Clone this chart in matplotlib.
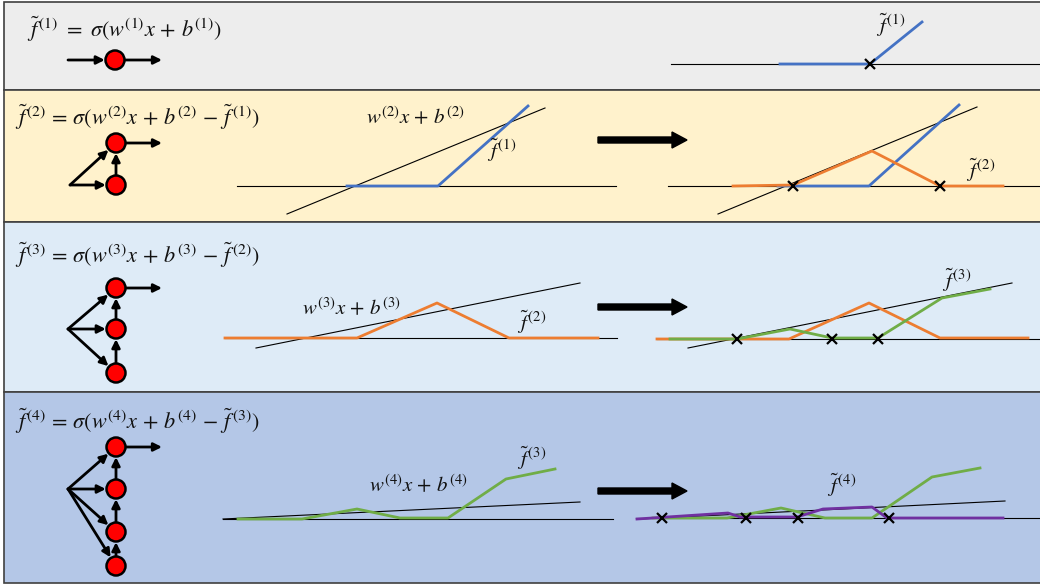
import matplotlib.pyplot as plt
from matplotlib.patches import Rectangle, Circle, FancyArrow

plt.rcParams['mathtext.fontset'] = 'stix'

BLUE = '#4472C4'
ORANGE = '#ED7D31'
GREEN = '#70AD47'
PURPLE = '#7030A0'

# panel frames (pixel rows) and fills
panel_top = [2, 90, 222, 392]
panel_bottom = [90, 222, 392, 583]
panel_color = ['#EDEDED', '#FFF2CC', '#DEEBF7', '#B4C7E7']

# formulas on the left of each panel
formulas = [r'$\tilde{f}^{\,(1)}\ =\ \sigma(w^{(1)}x\,+\,b^{(1)})$',
            r'$\tilde{f}^{\,(2)}\,=\,\sigma(w^{(2)}x\,+\,b^{(2)}\,-\,\tilde{f}^{\,(1)})$',
            r'$\tilde{f}^{\,(3)}\,=\,\sigma(w^{(3)}x\,+\,b^{(3)}\,-\,\tilde{f}^{\,(2)})$',
            r'$\tilde{f}^{\,(4)}\,=\,\sigma(w^{(4)}x\,+\,b^{(4)}\,-\,\tilde{f}^{\,(3)})$']
formula_x = [27, 15, 15, 15]
formula_y = [29, 117, 255, 421]

# little networks
neuron_x = [115, 116, 116, 116]
neuron_y = [[60], [143, 185], [288, 329, 373], [447, 489, 532, 566]]
source_x = [68, 70, 68, 68]
source_y = [60, 185, 329, 489]
out_x = 162
radius = 9.5

# big arrows between left and right plots
big_arrow_y = [140, 307, 491]

# plots: baselines (x0, x1, y)
baselines = [(671, 1040, 64),
             (237, 616, 186), (668, 1040, 186),
             (225, 617, 338), (657, 1040, 339),
             (223, 613, 519), (636, 1040, 518)]

# straight lines w x + b
wx_lines = [([287, 545], [214, 108]), ([718, 977], [214, 107]),
            ([256, 580], [348, 283]), ([688, 1012], [348, 283]),
            ([223, 580], [519, 502]), ([640, 1005], [519, 501])]

# piecewise curves
f1_p1 = ([780, 870, 922], [64, 64, 22])
f1_p2l = ([347, 438, 528], [186, 186, 106])
f1_p2r = ([778, 869, 959], [186, 186, 105])
f2_p2r = ([733, 793, 872, 940, 1003], [186, 185, 151, 186, 186])
f2_p3l = ([225, 357, 437, 509, 598], [338, 338, 303, 338, 338])
f2_p3r = ([657, 789, 869, 940, 1028], [339, 339, 303, 338, 338])
f3_p3r = ([670, 737, 790, 832, 878, 942, 990], [339, 339, 329, 338, 338, 298, 289])
f3_p4l = ([238, 302, 357, 400, 448, 506, 555], [519, 519, 509, 518, 518, 479, 469])
f3_p4r = ([653, 727, 781, 825, 872, 932, 980], [518, 518, 508, 518, 518, 477, 468])
f4_p4r = ([637, 728, 740, 797, 823, 872, 887, 1003], [519, 513, 517, 517, 509, 507, 518, 518])

# zero crossings
cross_x = [[870], [793, 940], [737, 832, 878], [662, 746, 798, 889]]
cross_y = [64, 186, 339, 518]

# text labels on the plots
labels = [(876, 25, r'$\tilde{f}^{\,(1)}$'),
          (366, 117, r'$w^{(2)}x\,+\,b^{(2)}$'), (487, 150, r'$\tilde{f}^{\,(1)}$'),
          (966, 170, r'$\tilde{f}^{\,(2)}$'),
          (302, 308, r'$w^{(3)}x\,+\,b^{(3)}$'), (517, 322, r'$\tilde{f}^{\,(2)}$'),
          (942, 280, r'$\tilde{f}^{\,(3)}$'),
          (369, 485, r'$w^{(4)}x\,+\,b^{(4)}$'), (517, 458, r'$\tilde{f}^{\,(3)}$'),
          (827, 485, r'$\tilde{f}^{\,(4)}$')]


def arrow(ax, x0, y0, x1, y1, sa=0.0, sb=0.0):
    ax.annotate('', xy=(x1, y1), xytext=(x0, y0),
                arrowprops=dict(arrowstyle='-|>', lw=2, color='black',
                                mutation_scale=12, shrinkA=sa, shrinkB=sb),
                zorder=3)


def main() -> None:
    fig = plt.figure(figsize=(10.4, 5.86), dpi=100)
    ax = fig.add_axes([0, 0, 1, 1])
    ax.set_xlim(0, 1040)
    ax.set_ylim(586, 0)
    ax.axis('off')

    for top, bot, col in zip(panel_top, panel_bottom, panel_color):
        ax.add_patch(Rectangle((4, top), 1040, bot - top, facecolor=col,
                               edgecolor='#404040', lw=1.2, zorder=0))

    for txt, x, y in zip(formulas, formula_x, formula_y):
        ax.text(x, y, txt, fontsize=16, ha='left', va='center', color='#111111')

    shrink = radius * 0.72 + 0.5
    for nx, ys, sx, sy in zip(neuron_x, neuron_y, source_x, source_y):
        for y in ys:
            arrow(ax, sx, sy, nx, y, sb=shrink)
        for ylow, yup in zip(ys[1:], ys[:-1]):
            arrow(ax, nx, ylow, nx, yup, sa=shrink, sb=shrink)
        arrow(ax, nx, ys[0], out_x, ys[0], sa=shrink)
        for y in ys:
            ax.add_patch(Circle((nx, y), radius, facecolor='#FF0000',
                                edgecolor='black', lw=1.8, zorder=4))

    for y in big_arrow_y:
        ax.add_patch(FancyArrow(598, y, 89, 0, width=6, head_width=16,
                                head_length=15, length_includes_head=True,
                                color='black', zorder=3))

    for x0, x1, y in baselines:
        ax.plot([x0, x1], [y, y], color='black', lw=0.8, zorder=1)
    for xs, ys in wx_lines:
        ax.plot(xs, ys, color='black', lw=0.8, zorder=1)

    for (xs, ys), col in [(f1_p1, BLUE), (f1_p2l, BLUE), (f1_p2r, BLUE),
                          (f2_p2r, ORANGE), (f2_p3l, ORANGE), (f2_p3r, ORANGE),
                          (f3_p3r, GREEN), (f3_p4l, GREEN), (f3_p4r, GREEN),
                          (f4_p4r, PURPLE)]:
        ax.plot(xs, ys, color=col, lw=2, zorder=2)

    for xs, y in zip(cross_x, cross_y):
        ax.plot(xs, [y] * len(xs), 'x', color='black', ms=7, mew=1.6, zorder=5)

    for x, y, txt in labels:
        ax.text(x, y, txt, fontsize=15, ha='left', va='center', color='#111111')

    fig.savefig('out.png', dpi=100)


if __name__ == "__main__":
    main()
